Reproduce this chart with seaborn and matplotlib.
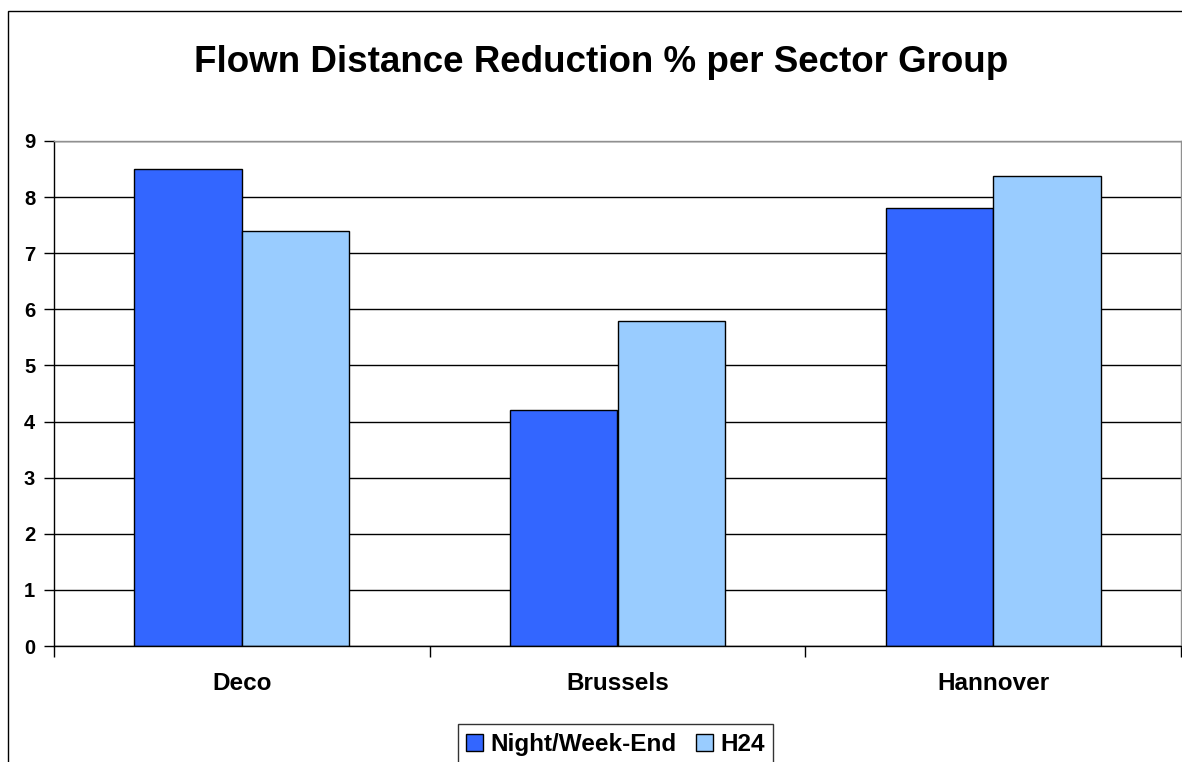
import matplotlib
matplotlib.use("Agg")
import matplotlib.pyplot as plt
import seaborn as sns
import pandas as pd
from matplotlib.patches import Rectangle, Patch

categories = ["Deco", "Brussels", "Hannover"]
series_names = ["Night/Week-End", "H24"]
night_weekend = [8.5, 4.2, 7.8]
h24 = [7.4, 5.8, 8.38]
y_ticks = [0, 1, 2, 3, 4, 5, 6, 7, 8, 9]
title = "Flown Distance Reduction % per Sector Group"
colors = ["#3366FF", "#99CCFF"]

df = pd.DataFrame({
    "Sector": categories * 2,
    "Series": [series_names[0]] * 3 + [series_names[1]] * 3,
    "Value": night_weekend + h24,
})

sns.set_theme(style="white")
plt.rcParams["font.family"] = ["Liberation Sans", "DejaVu Sans"]
plt.rcParams["text.color"] = "black"

W, H = 1182, 762
fig = plt.figure(figsize=(W / 100, H / 100), dpi=100)
ax = fig.add_axes([54 / W, 1 - 646 / H, (1181 - 54) / W, (646 - 141) / H])

sns.barplot(data=df, x="Sector", y="Value", hue="Series", order=categories,
            hue_order=series_names, palette=colors, width=0.572, gap=0,
            edgecolor="black", linewidth=1.0, saturation=1, ax=ax, legend=False)

ax.set_xlim(-0.5, 2.5)
ax.set_ylim(0, 9)
ax.set_axisbelow(True)
ax.set_yticks(y_ticks)
ax.set_yticklabels([str(t) for t in y_ticks], fontsize=14.5, fontweight="bold", color="black")
ax.yaxis.grid(True, color="black", linewidth=1.0)
ax.xaxis.grid(False)

# category boundary ticks (major) and labels (minor)
ax.set_xticks([-0.5, 0.5, 1.5, 2.5])
ax.set_xticklabels([])
ax.set_xticks([0, 1, 2], minor=True)
ax.set_xticklabels(categories, minor=True, fontsize=17.5, fontweight="bold", color="black")
ax.tick_params(axis="x", which="major", direction="out", length=8, width=1, color="black", bottom=True)
ax.tick_params(axis="x", which="minor", length=0, pad=19)
ax.tick_params(axis="y", direction="out", length=7, width=1, color="black", left=True, pad=6.5)
ax.set_xlabel("")
ax.set_ylabel("")

for s in ["left", "bottom"]:
    ax.spines[s].set_color("black")
    ax.spines[s].set_linewidth(1.0)
for s in ["top", "right"]:
    ax.spines[s].set_color("#909090")
    ax.spines[s].set_linewidth(1.0)

fig.text(601 / W, 1 - 62 / H, title, ha="center", va="center",
         fontsize=26.5, fontweight="bold", color="black")

handles = [Patch(facecolor=c, edgecolor="black", linewidth=1.0) for c in colors]
leg = fig.legend(handles, series_names, loc="lower center",
                 bbox_to_anchor=(615.5 / W, -0.003), ncol=2, frameon=True,
                 fancybox=False, shadow=False, prop={"size": 17.5, "weight": "bold"},
                 handlelength=0.7, handleheight=0.7, handletextpad=0.3,
                 columnspacing=0.8, borderpad=0.35, borderaxespad=0)
leg.get_frame().set_edgecolor("black")
leg.get_frame().set_linewidth(1.0)
for t in leg.get_texts():
    t.set_color("black")

fig.patches.append(Rectangle((7.5 / W, -0.1), 1.2, 1 - 10.5 / H + 0.1,
                             transform=fig.transFigure, fill=False,
                             edgecolor="black", linewidth=1.0, zorder=-1))

fig.savefig("out.png", dpi=100)
